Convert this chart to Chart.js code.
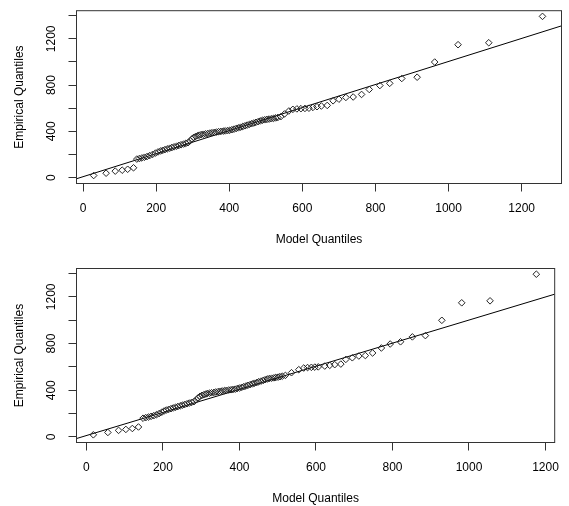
<!DOCTYPE html>
<html>
<head>
<meta charset="utf-8">
<script src="https://cdn.jsdelivr.net/npm/chart.js@4"></script>
<style>
  html, body { margin: 0; padding: 0; background: #fff; }
  #wrap { position: relative; width: 569px; height: 506px; }
  canvas { position: absolute; left: 0; }
</style>
</head>
<body>
<div id="wrap">
  <canvas id="top-plot" width="569" height="250" style="top:0"></canvas>
  <canvas id="bottom-plot" width="569" height="256" style="top:250px"></canvas>
</div>
<script>
// empirical quantiles (sorted sample), shared by both panels
const empirical = [
  18, 38, 56, 64, 72, 85,
  160, 165, 170, 176, 182, 190, 200, 212,
  222, 230, 236, 242, 248, 254, 260, 266, 272, 278, 284, 290, 296, 302,
  318, 335, 348, 356, 362, 367,
  372, 375, 378, 381, 385, 388, 391, 394, 397, 399, 402, 404, 406, 409, 414, 419, 425, 430,
  436, 442, 448, 454, 460, 466, 472, 478, 484, 490, 496, 500, 503, 506, 509, 512, 516, 520,
  527, 550, 576, 590, 594, 596, 598, 600, 607, 613, 619, 624,
  664, 678, 693, 697, 719, 762, 796, 815, 857, 868,
  999, 1149, 1166, 1394
];

// model quantiles, top panel
const modelTop = [
  29, 63, 88, 107, 122, 138,
  147, 154, 161, 168, 175, 182, 190, 198,
  205, 212, 218, 224, 230, 237, 243, 249, 256, 262, 268, 275, 281, 287,
  293, 298, 303, 308, 313, 318,
  323, 329, 335, 341, 347, 353, 359, 365, 371, 377, 383, 389, 395, 401, 407, 413, 419, 425,
  431, 437, 443, 449, 455, 461, 467, 473, 479, 485, 491, 497, 503, 509, 515, 521, 527, 533,
  541, 551, 563, 574, 585, 596, 607, 618, 629, 640, 652, 668,
  684, 700, 719, 739, 762, 783, 812, 839, 872, 914,
  962, 1026, 1110, 1257
];

// model quantiles, bottom panel
const modelBottom = [
  18, 56, 84, 103, 120, 136,
  148, 155, 162, 169, 176, 183, 190, 197,
  203, 209, 215, 221, 227, 233, 239, 245, 251, 257, 263, 269, 275, 281,
  287, 292, 297, 302, 307, 312,
  316, 322, 327, 333, 338, 344, 350, 355, 361, 366, 372, 378, 383, 389, 394, 400, 406, 411,
  417, 422, 428, 434, 439, 445, 450, 456, 462, 467, 473, 478, 484, 490, 495, 501, 506, 512,
  520, 536, 555, 568, 578, 588, 597, 606, 623, 636, 649, 665,
  678, 695, 712, 729, 748, 771, 794, 821, 852, 886,
  929, 981, 1055, 1176
];

// reference lines (end points read at the plot edges)
const lineTopX = [-18, 1309];
const lineTopY = [-10, 1312];
const lineBottomX = [-26, 1224];
const lineBottomY = [-14, 1223];

const xTicks = [0, 200, 400, 600, 800, 1000, 1200];
const yTicks = [0, 200, 400, 600, 800, 1000, 1200, 1400];
const yLabels = [0, 400, 800, 1200];

const FONT = { family: "'Liberation Sans', Arial, sans-serif", size: 12 };
const INK = '#333';

// draws the frame round the plotting region
const boxPlugin = {
  id: 'box',
  afterDraw(chart) {
    const { ctx, chartArea: a } = chart;
    ctx.save();
    ctx.strokeStyle = INK;
    ctx.lineWidth = 1;
    ctx.strokeRect(a.left, a.top, a.right - a.left, a.bottom - a.top);
    ctx.restore();
  }
};

function makePanel(id, xs, ys, lineX, lineY, cfg) {
  const points = xs.map((x, i) => ({ x: x, y: ys[i] }));
  const line = lineX.map((x, i) => ({ x: x, y: lineY[i] }));

  return new Chart(document.getElementById(id), {
    type: 'scatter',
    data: {
      datasets: [{
        data: points,
        pointStyle: 'rectRot',
        pointRadius: 3.3,
        borderColor: '#222',
        backgroundColor: 'rgba(0,0,0,0)',
        borderWidth: 1,
      }, {
        data: line,
        showLine: true,
        pointRadius: 0,
        borderColor: '#000',
        borderWidth: 1,
      }]
    },
    plugins: [boxPlugin],
    options: {
      responsive: false,
      animation: false,
      devicePixelRatio: 1,
      layout: { padding: { top: cfg.top, right: 7.5, left: 0, bottom: 0 } },
      plugins: { legend: { display: false }, tooltip: { enabled: false } },
      scales: {
        x: {
          type: 'linear',
          min: cfg.xMin,
          max: cfg.xMax,
          afterBuildTicks: s => { s.ticks = xTicks.map(v => ({ value: v })); },
          afterFit: s => { s.height = cfg.xHeight; },
          border: { display: false },
          grid: { drawOnChartArea: false, drawTicks: true, tickLength: 8, color: INK },
          ticks: {
            font: FONT, color: '#000', padding: 10, autoSkip: false, maxRotation: 0,
            callback: v => String(v)
          },
          title: {
            display: true, text: 'Model Quantiles', color: '#000',
            font: { ...FONT, lineHeight: 1 }, padding: { top: 0, bottom: cfg.titlePad }
          }
        },
        y: {
          type: 'linear',
          min: cfg.yMin,
          max: cfg.yMax,
          afterBuildTicks: s => { s.ticks = yTicks.map(v => ({ value: v })); },
          afterFit: s => { s.width = 76.5; },
          border: { display: false },
          grid: { drawOnChartArea: false, drawTicks: true, tickLength: 8, color: INK },
          ticks: {
            font: FONT, color: '#000', padding: 3.5, autoSkip: false,
            minRotation: 90, maxRotation: 90, crossAlign: 'center',
            callback: v => yLabels.includes(v) ? String(v) : ''
          },
          title: {
            display: true, text: 'Empirical Quantiles', color: '#000',
            font: { ...FONT, lineHeight: 1 }, padding: { top: 13.4, bottom: 0 }
          }
        }
      }
    }
  });
}

makePanel('top-plot', modelTop, empirical, lineTopX, lineTopY, {
  top: 9.5, xHeight: 66.5, titlePad: 4.5,
  xMin: -18, xMax: 1309, yMin: -51, yMax: 1443
});

makePanel('bottom-plot', modelBottom, empirical, lineBottomX, lineBottomY, {
  top: 18.5, xHeight: 63.5, titlePad: 1.2,
  xMin: -26, xMax: 1224, yMin: -48, yMax: 1443
});
</script>
</body>
</html>
